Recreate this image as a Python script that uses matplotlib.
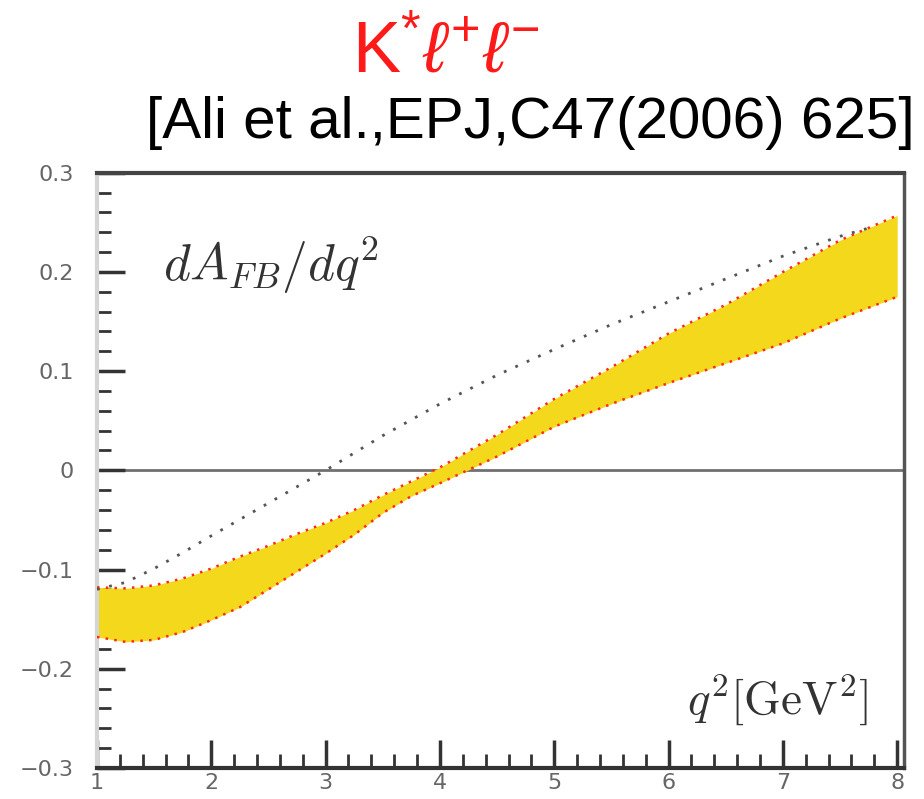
import matplotlib.pyplot as plt
from matplotlib.ticker import MultipleLocator, FixedFormatter, FixedLocator

plt.rcParams['mathtext.rm'] = 'Liberation Sans'
plt.rcParams['mathtext.it'] = 'Liberation Sans:italic'
plt.rcParams['mathtext.bf'] = 'Liberation Sans:bold'

# band (theory uncertainty) of dA_FB/dq^2
q2 = [1.0, 1.25, 1.5, 1.75, 2.0, 2.25, 2.5, 2.75, 3.0, 3.25, 3.5, 3.75, 4.0,
      4.5, 5.0, 5.5, 6.0, 6.5, 7.0, 7.5, 8.0]
band_hi = [-0.118, -0.119, -0.116, -0.109, -0.099, -0.087, -0.076, -0.064, -0.053,
           -0.040, -0.025, -0.011, 0.003,
           0.036, 0.072, 0.104, 0.138, 0.167, 0.200, 0.232, 0.257]
band_lo = [-0.168, -0.173, -0.171, -0.163, -0.151, -0.138, -0.120, -0.102, -0.084,
           -0.065, -0.043, -0.026, -0.013,
           0.014, 0.044, 0.067, 0.088, 0.108, 0.128, 0.153, 0.175]

# dotted reference curve
q2_dot = [1.0, 1.25, 1.5, 1.75, 2.0, 2.5, 3.0, 3.5, 4.0, 4.5, 5.0, 5.5, 6.0,
          6.5, 7.0, 7.5, 7.8]
afb_dot = [-0.120, -0.113, -0.099, -0.083, -0.066, -0.033, 0.000, 0.035, 0.067,
           0.096, 0.122, 0.147, 0.170, 0.193, 0.216, 0.236, 0.246]

xticks = [1, 2, 3, 4, 5, 6, 7, 8]
yticks = [-0.3, -0.2, -0.1, 0, 0.1, 0.2, 0.3]
ylabels = ['\u22120.3', '\u22120.2', '\u22120.1', '0', '0.1', '0.2', '0.3']

fig = plt.figure(figsize=(9.24, 7.99), dpi=100)
ax = fig.add_axes([0.105, 0.039, 0.8734, 0.7447])

ax.fill_between(q2, band_lo, band_hi, color='#f3d81c', lw=0, zorder=2)
ax.plot(q2, band_hi, color='#ff2a1a', lw=1.8, ls=(0, (1, 2.5)), zorder=3)
ax.plot(q2, band_lo, color='#ff2a1a', lw=1.8, ls=(0, (1, 2.5)), zorder=3)
ax.plot(q2_dot, afb_dot, color='#555555', lw=2, ls=(0, (1, 3.5)), zorder=3)
ax.axhline(0, color='#707070', lw=2, zorder=1)

ax.set_xlim(1, 8.06)
ax.set_ylim(-0.3, 0.3)

ax.xaxis.set_major_locator(FixedLocator(xticks))
ax.xaxis.set_minor_locator(MultipleLocator(0.2))
ax.yaxis.set_major_locator(FixedLocator(yticks))
ax.yaxis.set_major_formatter(FixedFormatter(ylabels))
ax.yaxis.set_minor_locator(MultipleLocator(0.02))
ax.tick_params(which='both', direction='in', top=False, right=False,
               color='#333333', labelcolor='#666666', labelsize=16)
ax.tick_params(which='major', length=20, width=2.5)
ax.tick_params(which='minor', length=10, width=2)
ax.tick_params(axis='y', pad=17)
ax.tick_params(axis='x', pad=4)

ax.spines['left'].set_color('#d5d5d5')
ax.spines['left'].set_linewidth(3)
ax.spines['bottom'].set_color('#333333')
ax.spines['bottom'].set_linewidth(3)
ax.spines['top'].set_color('#444444')
ax.spines['top'].set_linewidth(3)
ax.spines['right'].set_color('#555555')
ax.spines['right'].set_linewidth(2.5)

ax.text(0.082, 0.845, r'$dA_{FB}/dq^2$', transform=ax.transAxes, fontsize=37,
        math_fontfamily='cm', color='#333333', ha='left', va='center')
ax.text(0.955, 0.114, r'$q^2[\mathrm{GeV}^2]$', transform=ax.transAxes, fontsize=34,
        math_fontfamily='cm', color='#333333', ha='right', va='center')

fig.text(0.381, 0.909, r'$\mathrm{K}^{*}\ell^{+}\ell^{-}$', color='#ff1a1a', fontsize=52,
         math_fontfamily='custom', ha='left', va='baseline')
fig.text(0.99, 0.827, '[Ali et al.,EPJ,C47(2006) 625]', color='black', fontsize=42,
         family=['Liberation Sans', 'DejaVu Sans'], ha='right', va='baseline')

fig.savefig('out.png', dpi=100)
